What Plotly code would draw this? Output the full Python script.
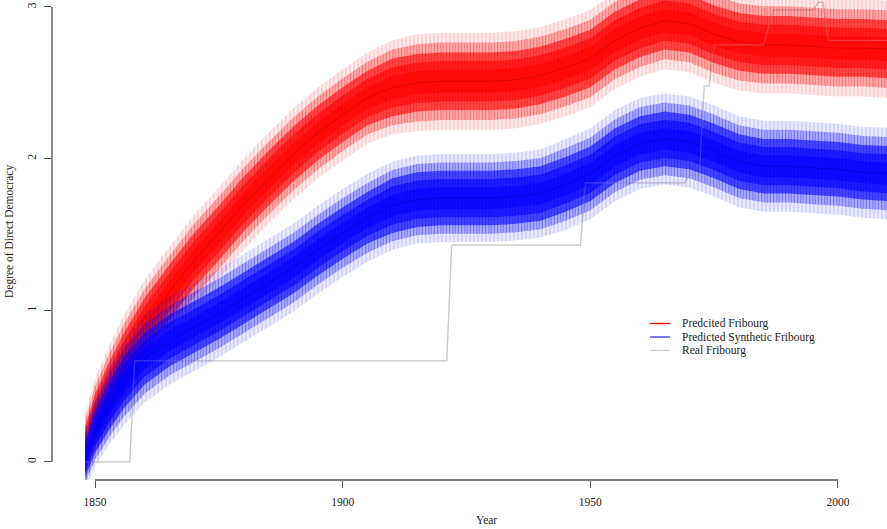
import plotly.graph_objects as go

# ---------------- data ----------------
years = [1848, 1850, 1853, 1856, 1860, 1865, 1870, 1875, 1880, 1885, 1890, 1895,
         1900, 1905, 1910, 1915, 1920, 1925, 1930, 1935, 1940, 1945, 1950, 1955,
         1960, 1965, 1970, 1975, 1980, 1985, 1990, 1995, 2000, 2005, 2010, 2012]

# Predicted Fribourg ensemble: centre and spread (half widths) of the bundle
red_mean = [0.10, 0.30, 0.50, 0.68, 0.90, 1.12, 1.33, 1.51, 1.70, 1.87, 2.03, 2.17,
            2.29, 2.40, 2.47, 2.50, 2.51, 2.51, 2.51, 2.52, 2.55, 2.60, 2.66, 2.78,
            2.86, 2.91, 2.89, 2.82, 2.77, 2.75, 2.75, 2.74, 2.73, 2.73, 2.72, 2.72]
red_outer = [0.22, 0.25, 0.28, 0.30, 0.30, 0.30, 0.30, 0.30, 0.30, 0.30, 0.30, 0.30,
             0.30, 0.30, 0.31, 0.32, 0.32, 0.32, 0.32, 0.32, 0.32, 0.32, 0.32, 0.32,
             0.32, 0.32, 0.32, 0.32, 0.32, 0.32, 0.32, 0.32, 0.32, 0.32, 0.32, 0.32]
red_dense = [0.13, 0.15, 0.17, 0.18, 0.18, 0.18, 0.18, 0.18, 0.18, 0.18, 0.18, 0.18,
             0.18, 0.18, 0.19, 0.19, 0.19, 0.19, 0.19, 0.19, 0.19, 0.19, 0.19, 0.19,
             0.19, 0.19, 0.19, 0.19, 0.19, 0.19, 0.19, 0.19, 0.19, 0.19, 0.19, 0.19]

# Predicted Synthetic Fribourg ensemble
blue_mean = [0.02, 0.20, 0.38, 0.53, 0.68, 0.80, 0.89, 0.98, 1.08, 1.18, 1.28, 1.40,
             1.51, 1.61, 1.69, 1.73, 1.74, 1.74, 1.74, 1.75, 1.77, 1.83, 1.90, 2.02,
             2.10, 2.13, 2.11, 2.05, 1.98, 1.95, 1.95, 1.94, 1.93, 1.91, 1.90, 1.90]
blue_outer = [0.20, 0.23, 0.26, 0.28, 0.29, 0.29, 0.29, 0.29, 0.29, 0.29, 0.29, 0.29,
              0.29, 0.29, 0.29, 0.29, 0.29, 0.29, 0.29, 0.29, 0.29, 0.30, 0.30, 0.30,
              0.30, 0.30, 0.30, 0.30, 0.30, 0.30, 0.30, 0.30, 0.30, 0.30, 0.30, 0.30]
blue_dense = [0.12, 0.14, 0.16, 0.17, 0.17, 0.17, 0.17, 0.17, 0.17, 0.17, 0.17, 0.17,
              0.17, 0.17, 0.18, 0.18, 0.18, 0.18, 0.18, 0.18, 0.18, 0.18, 0.18, 0.18,
              0.18, 0.18, 0.18, 0.18, 0.18, 0.18, 0.18, 0.18, 0.18, 0.18, 0.18, 0.18]

# Real Fribourg (step series, change points)
real_years = [1848, 1857, 1858, 1921, 1922, 1948, 1949, 1969, 1970, 1972, 1973,
              1974, 1975, 1985, 1986, 1987, 1995, 1996, 1997, 1998, 2012]
real_vals = [0.0, 0.0, 0.666, 0.666, 1.43, 1.43, 1.84, 1.84, 1.89, 1.89, 2.48,
             2.48, 2.75, 2.75, 2.87, 2.98, 2.98, 3.03, 3.03, 2.78, 2.78]

x_ticks = [1850, 1900, 1950, 2000]
y_ticks = [0, 1, 2, 3]
legend_labels = ["Predcited Fribourg", "Predicted Synthetic Fribourg", "Real Fribourg"]
legend_colors = ["rgb(255,0,0)", "rgb(60,60,255)", "rgb(211,211,211)"]

# ---------------- figure ----------------
FONT = "Liberation Serif"
W, H = 887, 529
ML, MR, MT, MB = 52, 0, 0, 49
PW, PH = W - ML - MR, H - MT - MB

fig = go.Figure()

# real series underneath (full strength where the plot is empty)
fig.add_trace(go.Scatter(x=real_years, y=real_vals, mode="lines", showlegend=False,
                         line=dict(color="rgb(200,200,200)", width=1.3),
                         hoverinfo="skip"))


def band(mean, half, fill, pattern=None):
    hi = [m + h for m, h in zip(mean, half)]
    lo = [m - h for m, h in zip(mean, half)]
    kw = {}
    if pattern:
        kw["fillpattern"] = pattern
    return go.Scatter(x=years + years[::-1], y=hi + lo[::-1], fill="toself",
                      fillcolor=fill, line=dict(width=0), mode="lines",
                      hoverinfo="skip", showlegend=False, **kw)


def ensemble(mean, outer, dense, rgb, mean_rgb):
    r, g, b = rgb
    fig.add_trace(band(mean, outer, f"rgba({r},{g},{b},0.12)",
                       dict(shape="|", fgcolor=f"rgba({r},{g},{b},0.30)",
                            bgcolor=f"rgba({r},{g},{b},0.08)", size=4, solidity=0.35)))
    mid = [(o + d) / 2 for o, d in zip(outer, dense)]
    fig.add_trace(band(mean, mid, f"rgba({r},{g},{b},0.30)",
                       dict(shape="|", fgcolor=f"rgba({r},{g},{b},0.55)",
                            bgcolor=f"rgba({r},{g},{b},0.22)", size=3, solidity=0.45)))
    fig.add_trace(band(mean, dense, f"rgba({r},{g},{b},0.6)"))
    inner = [d * 0.7 for d in dense]
    fig.add_trace(band(mean, inner, f"rgba({r},{g},{b},0.6)"))
    core = [d * 0.4 for d in dense]
    fig.add_trace(band(mean, core, f"rgba({r},{g},{b},0.6)"))
    fig.add_trace(go.Scatter(x=years, y=mean, mode="lines", showlegend=False,
                             line=dict(color=mean_rgb, width=0.6), hoverinfo="skip"))


ensemble(red_mean, red_outer, red_dense, (255, 0, 0), "rgb(205,0,0)")
ensemble(blue_mean, blue_outer, blue_dense, (0, 0, 255), "rgb(0,0,205)")

# real series again, faint, so it shows through the bundles as in the reference
fig.add_trace(go.Scatter(x=real_years, y=real_vals, mode="lines", showlegend=False,
                         line=dict(color="rgba(205,205,205,0.25)", width=1.2),
                         hoverinfo="skip"))

# R-style axis lines that only span the tick range
axis_col = "#555555"
fig.add_shape(type="line", xref="x", yref="paper", x0=x_ticks[0], x1=x_ticks[-1],
              y0=0, y1=0, line=dict(color=axis_col, width=1.4))
fig.add_shape(type="line", xref="paper", yref="y", x0=0, x1=0, y0=y_ticks[0],
              y1=y_ticks[-1], line=dict(color=axis_col, width=1.4))

# manual legend (R style: short line samples, tight spacing)
lg_x0, lg_x1, lg_tx = 650, 670, 680
lg_y = [323.5, 337, 350.5]
for lab, col, py in zip(legend_labels, legend_colors, lg_y):
    yy = (H - MB - py) / PH
    fig.add_shape(type="line", xref="paper", yref="paper",
                  x0=(lg_x0 - ML) / PW, x1=(lg_x1 - ML) / PW, y0=yy, y1=yy,
                  line=dict(color=col, width=1.4))
    fig.add_annotation(xref="paper", yref="paper", x=(lg_tx - ML) / PW, y=yy,
                       text=lab, showarrow=False, xanchor="left", yanchor="middle",
                       font=dict(family=FONT, size=11.5, color="#222"))

# axis titles
fig.add_annotation(xref="paper", yref="paper", x=(486 - ML) / PW, y=(H - MB - 520) / PH,
                   text="Year", showarrow=False, xanchor="center", yanchor="middle",
                   font=dict(family=FONT, size=11.5, color="#222"))
fig.add_annotation(xref="paper", yref="paper", x=(10 - ML) / PW, y=(H - MB - 232) / PH,
                   text="Degree of Direct Democracy", showarrow=False, textangle=-90,
                   xanchor="center", yanchor="middle",
                   font=dict(family=FONT, size=11.5, color="#222"))

fig.update_layout(
    width=W, height=H,
    margin=dict(l=ML, r=MR, t=MT, b=MB),
    paper_bgcolor="white", plot_bgcolor="white",
    showlegend=False,
    xaxis=dict(range=[1841.3, 2009.9], tickvals=x_ticks, ticks="outside", ticklen=7,
               tickcolor=axis_col, tickwidth=1.2, showgrid=False, zeroline=False,
               showline=False, tickfont=dict(family=FONT, size=11.5, color="#222"),
               ticklabelstandoff=4),
    yaxis=dict(range=[-0.119, 3.046], tickvals=y_ticks, ticks="outside", ticklen=7,
               tickcolor=axis_col, tickwidth=1.2, showgrid=False, zeroline=False,
               showline=False, tickangle=-90,
               tickfont=dict(family=FONT, size=11.5, color="#222"),
               ticklabelstandoff=3),
)

fig.write_html("out.html")
